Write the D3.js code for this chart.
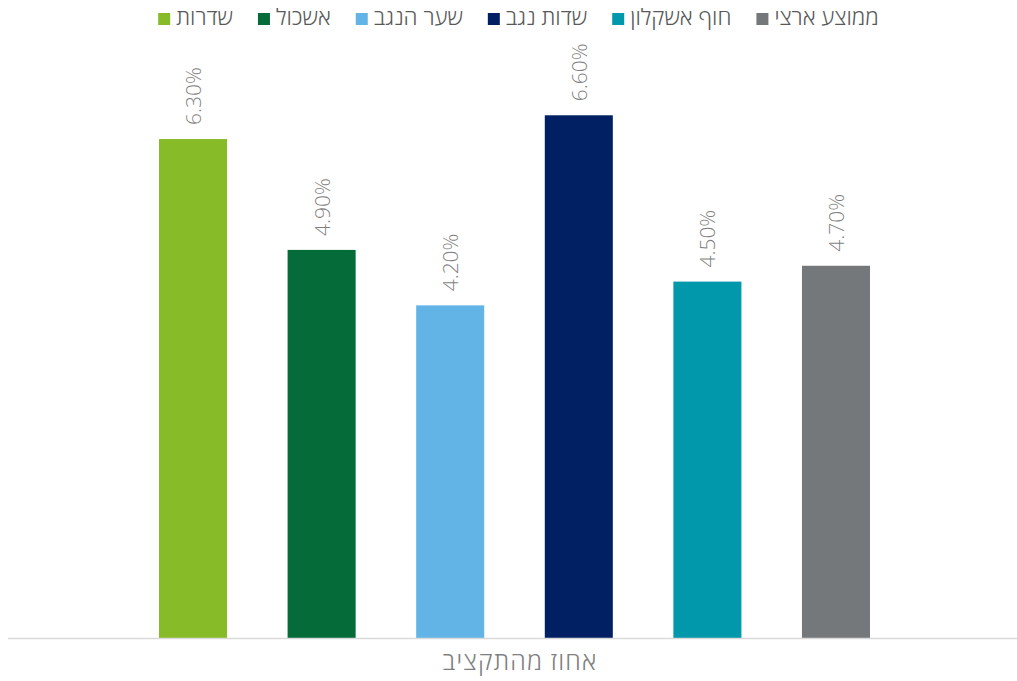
<!DOCTYPE html>
<html><head><meta charset="utf-8">
<script src="https://cdn.jsdelivr.net/npm/d3@7"></script>
<style>body{margin:0;background:#fff}svg{display:block}text{font-family:"Open Sans","DejaVu Sans",sans-serif;font-weight:300}</style>
</head><body>
<svg id="c" width="1017" height="681"></svg>
<script>
const seriesNames = ["שדרות","אשכול","שער הנגב","שדות נגב","חוף אשקלון","ממוצע ארצי"];
const seriesValues = [6.3,4.9,4.2,6.6,4.5,4.7];
const seriesColors = ["#87bb27","#046b39","#63b4e6","#012064","#0098aa","#75787b"];
const categoryLabel = "אחוז מהתקציב";

const svg = d3.select("#c");
const W = 1017, H = 681;
const baseY = 638;
const y = d3.scaleLinear().domain([0, 8]).range([baseY, baseY - 8*79.2]);
const x = d3.scaleBand().domain(seriesNames).range([159, 870]).paddingInner(0.471).paddingOuter(0);

svg.selectAll("rect.bar").data(seriesNames).enter().append("rect")
  .attr("class","bar")
  .attr("x", d => x(d))
  .attr("width", x.bandwidth())
  .attr("y", (d,i) => y(seriesValues[i]))
  .attr("height", (d,i) => baseY - y(seriesValues[i]))
  .attr("fill", (d,i) => seriesColors[i]);

svg.append("line").attr("x1", 8).attr("x2", W).attr("y1", baseY+0.5).attr("y2", baseY+0.5)
  .attr("stroke", "#d9d9d9").attr("stroke-width", 1.5);

svg.selectAll("text.val").data(seriesNames).enter().append("text")
  .attr("class","val")
  .attr("transform", (d,i) => `translate(${x(d)+x.bandwidth()/2 + 8},${y(seriesValues[i]) - 14}) rotate(-90)`)
  .attr("text-anchor","start")
  .attr("font-size", 21)
  .attr("fill", "#7f7f7f")
  .text((d,i) => seriesValues[i].toFixed(2) + "%");

svg.append("text").attr("x", 520).attr("y", 670).attr("text-anchor","middle")
  .attr("font-size", 25).attr("letter-spacing", 1.2).attr("fill","#7f7f7f").text(categoryLabel);

const lg = svg.append("g");
let cx = 0;
seriesNames.forEach((n,i) => {
  const g = lg.append("g").attr("transform", `translate(${cx},0)`);
  g.append("rect").attr("x",0).attr("y",13).attr("width",12).attr("height",12).attr("fill",seriesColors[i]);
  const t = g.append("text").attr("x",18).attr("y",25).attr("font-size",22.5).attr("fill","#595959").text(n);
  const w = t.node().getComputedTextLength();
  cx += 18 + w + 25;
});
const total = cx - 25;
lg.attr("transform", `translate(${518.5 - total/2},0)`);
</script>
</body></html>
